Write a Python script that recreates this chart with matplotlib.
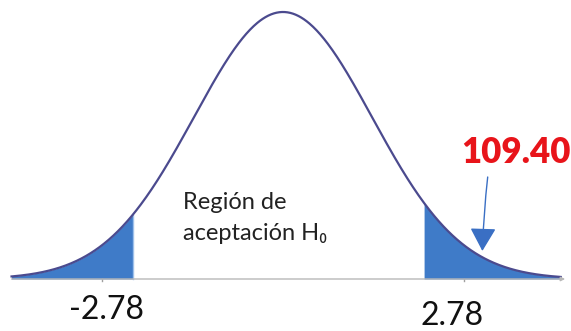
import numpy as np
import matplotlib.pyplot as plt

# datos (eje en unidades z)
z_ini, z_fin = -3.05, 3.12
z_crit_izq, z_crit_der = -1.69, 1.58
ticks_z = [-2.03, 2.03]
etiquetas = ["-2.78", "2.78"]
valor = "109.40"

plt.rcParams['font.family'] = ['Lato', 'DejaVu Sans']

fig = plt.figure(figsize=(5.71, 3.31), dpi=100)
ax = fig.add_axes([0, 0, 1, 1])
ax.set_xlim(-283 / 89, (571 - 283) / 89)
ax.set_ylim(-(331 - 279) / 267, 279 / 267)
ax.axis("off")

z = np.linspace(z_ini, z_fin, 600)
y = np.exp(-z ** 2 / 2)

# eje horizontal
ax.annotate("", xy=(z_fin + 0.05, 0), xytext=(z_ini, 0),
            arrowprops=dict(arrowstyle="-|>", color="#b8b8b8", lw=1.0,
                            mutation_scale=6, shrinkA=0, shrinkB=0))
for t in ticks_z:
    ax.plot([t, t], [0, -0.008], color="#a0a0a0", lw=1)

# colas sombreadas
m1 = z <= z_crit_izq
m2 = z >= z_crit_der
ax.fill_between(z[m1], 0, y[m1], color="#3f7bc8", lw=0)
ax.fill_between(z[m2], 0, y[m2], color="#3f7bc8", lw=0)
ax.plot([z_crit_izq, z_crit_izq], [0, np.exp(-z_crit_izq ** 2 / 2)], color="#9ec0ea", lw=1)

# curva normal
ax.plot(z, y, color="#4b4a8e", lw=1.6)

ax.text(-1.12, 0.288, "Región de", fontsize=17, color="#222222", ha="left", va="center")
ax.text(-1.12, 0.172, "aceptación H₀", fontsize=17, color="#222222", ha="left", va="center")

ax.text(-1.98, -0.116, etiquetas[0], fontsize=23, ha="center", va="center", color="#111111")
ax.text(1.90, -0.138, etiquetas[1], fontsize=23, ha="center", va="center", color="#111111")

ax.text(2.62, 0.472, valor, fontsize=25, fontweight="heavy", color="#e8141a",
        ha="center", va="center")
ax.annotate("", xy=(2.24, 0.105), xytext=(2.30, 0.382),
            arrowprops=dict(arrowstyle="-|>,head_width=0.45,head_length=0.8",
                            color="#3a6fc4", lw=1.0, mutation_scale=18,
                            connectionstyle="arc3,rad=0.02", shrinkA=0, shrinkB=0))

fig.savefig("out.png", dpi=100)
plt.close(fig)
